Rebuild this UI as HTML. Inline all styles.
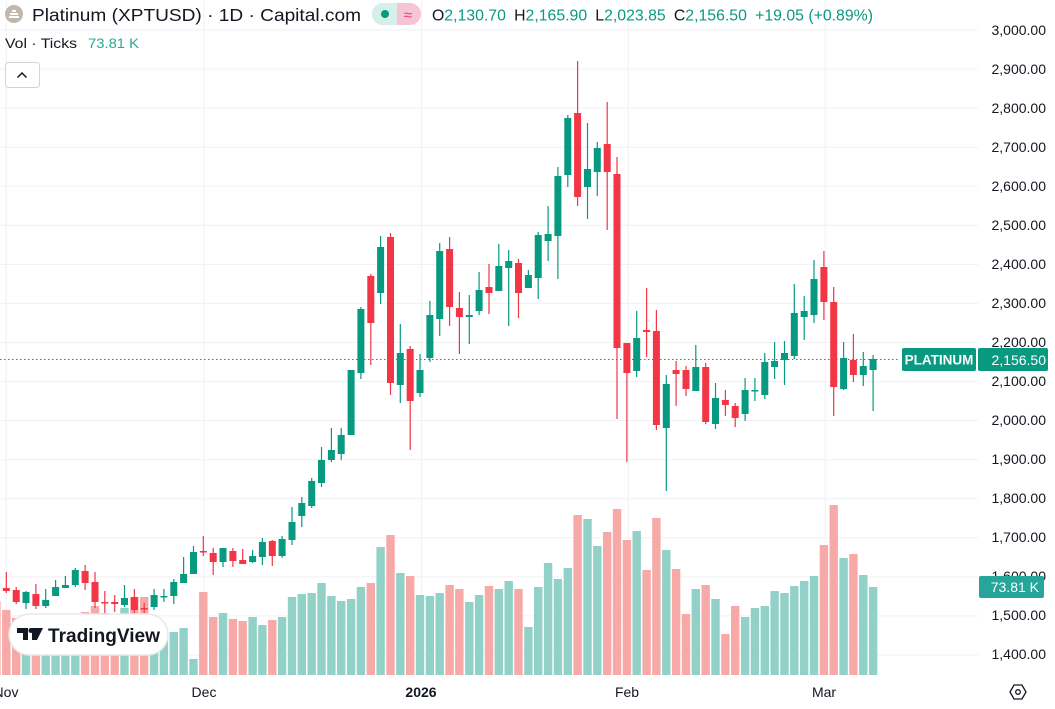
<!DOCTYPE html>
<html><head><meta charset="utf-8"><style>
html,body{margin:0;padding:0;background:#fff;width:1055px;height:709px;overflow:hidden;font-family:"Liberation Sans",sans-serif;}
svg{position:absolute;left:0;top:0}
.t{font-family:"Liberation Sans",sans-serif}
</style></head><body>
<svg width="1055" height="709" viewBox="0 0 1055 709" xmlns="http://www.w3.org/2000/svg">
<g stroke="#f0f1f4" stroke-width="1">
<path d="M0 30H978M0 69.1H978M0 108.1H978M0 147.2H978M0 186.2H978M0 225.3H978M0 264.4H978M0 303.4H978M0 342.5H978M0 381.6H978M0 420.6H978M0 459.7H978M0 498.7H978M0 537.8H978M0 576.9H978M0 615.9H978M0 655H978"/>
<path d="M6.3 0V676M204 0V676M421.5 0V676M628.3 0V676M825.3 0V676"/>
</g>
<path fill="#f7a9a7" d="M-7.8 601h8.4V675h-8.4zM2.1 610h8.4V675h-8.4zM12 618h8.4V675h-8.4zM31.7 620h8.4V675h-8.4zM80.9 612h8.4V675h-8.4zM90.8 606h8.4V675h-8.4zM100.6 613h8.4V675h-8.4zM110.5 620h8.4V675h-8.4zM130.2 597h8.4V675h-8.4zM140 597h8.4V675h-8.4zM199.1 592h8.4V675h-8.4zM209 617h8.4V675h-8.4zM228.7 619h8.4V675h-8.4zM238.5 621h8.4V675h-8.4zM268.1 620h8.4V675h-8.4zM366.6 583h8.4V675h-8.4zM386.3 535h8.4V675h-8.4zM406 576h8.4V675h-8.4zM445.4 585h8.4V675h-8.4zM455.2 589h8.4V675h-8.4zM484.8 586h8.4V675h-8.4zM514.3 589h8.4V675h-8.4zM573.4 515h8.4V675h-8.4zM603 532h8.4V675h-8.4zM612.8 509h8.4V675h-8.4zM622.7 540h8.4V675h-8.4zM642.4 570h8.4V675h-8.4zM652.2 518h8.4V675h-8.4zM671.9 569h8.4V675h-8.4zM681.8 614h8.4V675h-8.4zM701.5 585h8.4V675h-8.4zM721.2 634h8.4V675h-8.4zM731 606h8.4V675h-8.4zM819.7 545h8.4V675h-8.4zM829.5 505h8.4V675h-8.4zM849.2 554h8.4V675h-8.4z"/>
<path fill="#92d1c8" d="M21.8 625h8.4V675h-8.4zM41.5 625h8.4V675h-8.4zM51.4 620h8.4V675h-8.4zM61.2 622h8.4V675h-8.4zM71.1 615h8.4V675h-8.4zM120.3 608h8.4V675h-8.4zM149.9 630h8.4V675h-8.4zM159.7 632h8.4V675h-8.4zM169.6 632h8.4V675h-8.4zM179.4 628h8.4V675h-8.4zM189.3 659h8.4V675h-8.4zM218.8 613h8.4V675h-8.4zM248.4 617h8.4V675h-8.4zM258.2 625h8.4V675h-8.4zM277.9 617h8.4V675h-8.4zM287.8 597h8.4V675h-8.4zM297.6 594h8.4V675h-8.4zM307.5 593h8.4V675h-8.4zM317.3 583h8.4V675h-8.4zM327.2 596h8.4V675h-8.4zM337 601h8.4V675h-8.4zM346.9 599h8.4V675h-8.4zM356.7 587h8.4V675h-8.4zM376.4 547h8.4V675h-8.4zM396.1 573h8.4V675h-8.4zM415.8 595h8.4V675h-8.4zM425.7 596h8.4V675h-8.4zM435.5 593h8.4V675h-8.4zM465.1 602h8.4V675h-8.4zM474.9 595h8.4V675h-8.4zM494.6 589h8.4V675h-8.4zM504.5 581h8.4V675h-8.4zM524.2 627h8.4V675h-8.4zM534 587h8.4V675h-8.4zM543.9 563h8.4V675h-8.4zM553.7 579h8.4V675h-8.4zM563.6 568h8.4V675h-8.4zM583.3 519h8.4V675h-8.4zM593.1 546h8.4V675h-8.4zM632.5 531h8.4V675h-8.4zM662.1 550h8.4V675h-8.4zM691.6 589h8.4V675h-8.4zM711.3 599h8.4V675h-8.4zM740.9 617h8.4V675h-8.4zM750.7 608h8.4V675h-8.4zM760.6 606h8.4V675h-8.4zM770.4 591h8.4V675h-8.4zM780.3 593h8.4V675h-8.4zM790.1 586h8.4V675h-8.4zM800 581h8.4V675h-8.4zM809.8 576h8.4V675h-8.4zM839.4 558h8.4V675h-8.4zM859.1 575h8.4V675h-8.4zM868.9 587h8.4V675h-8.4z"/>
<path d="M0 359.5H900" stroke="#089981" stroke-width="1" stroke-dasharray="1.5 2.5"/>
<path stroke="#f23645" stroke-width="1.2" fill="none" d="M6.3 572V593M16.2 587V604M35.9 584V609M85.1 565V590M95 572V608M104.8 591V613M114.7 595V612M134.4 589V613M144.2 603V613M203.3 536V556M213.2 548V575M232.9 548V567M242.7 549V564M272.3 540V566M370.8 274V365M390.5 233V395M410.2 346V450M449.6 237V326M459.4 292V354M489 264V314M518.5 259V318M577.6 61V206M607.2 102V230M617 157V419M626.9 343V462M646.6 288V357M656.4 310V430M676.1 361V406M686 366V396M705.7 363V424M725.4 390V416M735.2 403V427M823.9 251V320M833.7 287V416M853.4 334V382"/>
<path fill="#f23645" d="M2.8 588h7v3h-7zM12.7 590h7v12h-7zM32.4 594h7v12h-7zM81.6 571h7v12h-7zM91.5 582h7v20h-7zM101.3 602h7v1.5h-7zM111.2 602h7v2h-7zM130.9 597h7v13h-7zM140.7 608h7v1.5h-7zM199.8 551h7v1.5h-7zM209.7 553h7v9h-7zM229.4 551h7v10h-7zM239.2 560h7v4h-7zM268.8 541h7v15h-7zM367.3 276h7v47h-7zM387 237h7v146h-7zM406.7 349h7v52h-7zM446.1 249h7v58h-7zM455.9 308h7v9h-7zM485.5 287h7v6h-7zM515 263h7v30h-7zM574.1 113h7v84h-7zM603.7 144h7v28h-7zM613.5 174h7v174h-7zM623.4 343h7v30h-7zM643.1 330h7v2h-7zM652.9 331h7v94h-7zM672.6 370h7v4h-7zM682.5 370h7v19h-7zM702.2 367h7v55h-7zM721.9 400h7v5h-7zM731.7 406h7v12h-7zM820.4 267h7v35h-7zM830.2 302h7v85h-7zM849.9 360h7v15h-7z"/>
<path stroke="#089981" stroke-width="1.2" fill="none" d="M26 591V609M45.7 589V608M55.6 580V596M65.4 576V588M75.3 568V587M124.5 585V607M154.1 589V610M163.9 589V602M173.8 579V604M183.6 557V583M193.5 546V574M223 548V567M252.6 550V563M262.4 538V565M282.1 536V558M292 507V545M301.8 497V527M311.7 478V508M321.5 447V487M331.4 428V462M341.2 428V460M351.1 370V435M360.9 307V379M380.6 236V304M400.3 324V403M420 354V397M429.9 301V362M439.7 243V336M469.3 295V344M479.1 272V315M498.8 244V291M508.7 250V326M528.4 270V288M538.2 232V299M548.1 206V261M557.9 167V279M567.8 115V187M587.5 123V219M597.3 142V196M636.7 311V377M666.3 375V491M695.8 345V391M715.5 383V429M745.1 378V421M754.9 378V401M764.8 353V399M774.6 342V379M784.5 341V385M794.3 284V359M804.2 296V340M814 260V323M843.6 342V390M863.3 352V386M873.1 355V411"/>
<path fill="#089981" d="M22.5 592h7v11h-7zM42.2 600h7v6h-7zM52.1 587h7v9h-7zM61.9 585h7v3h-7zM71.8 570h7v15h-7zM121 598h7v7h-7zM150.6 595h7v12h-7zM160.4 596h7v1.5h-7zM170.3 582h7v14h-7zM180.1 574h7v9h-7zM190 552h7v22h-7zM219.5 548h7v14h-7zM249.1 556h7v6h-7zM258.9 542h7v15h-7zM278.6 539h7v17h-7zM288.5 522h7v18h-7zM298.3 503h7v13h-7zM308.2 481h7v25h-7zM318 460h7v23h-7zM327.9 450h7v10h-7zM337.7 435h7v19h-7zM347.6 370h7v65h-7zM357.4 309h7v64h-7zM377.1 247h7v46h-7zM396.8 353h7v32h-7zM416.5 370h7v23h-7zM426.4 315h7v43h-7zM436.2 251h7v68h-7zM465.8 315h7v2h-7zM475.6 290h7v21h-7zM495.3 266h7v25h-7zM505.2 261h7v7h-7zM524.9 275h7v13h-7zM534.7 235h7v43h-7zM544.6 234h7v7h-7zM554.4 176h7v60h-7zM564.3 118h7v57h-7zM584 169h7v18h-7zM593.8 148h7v24h-7zM633.2 338h7v33h-7zM662.8 384h7v44h-7zM692.3 367h7v24h-7zM712 398h7v26h-7zM741.6 390h7v24h-7zM751.4 390h7v1.5h-7zM761.3 362h7v33h-7zM771.1 361h7v6h-7zM781 353h7v7h-7zM790.8 313h7v43h-7zM800.7 311h7v6h-7zM810.5 279h7v36h-7zM840.1 358h7v31h-7zM859.8 366h7v9h-7zM869.6 359h7v11h-7z"/>
<g class="t" font-size="14" fill="#131722" text-anchor="end">
<text x="1046" y="35">3,000.00</text><text x="1046" y="74">2,900.00</text><text x="1046" y="113">2,800.00</text><text x="1046" y="152">2,700.00</text><text x="1046" y="191">2,600.00</text><text x="1046" y="230">2,500.00</text><text x="1046" y="269">2,400.00</text><text x="1046" y="308">2,300.00</text><text x="1046" y="347">2,200.00</text><text x="1046" y="386">2,100.00</text><text x="1046" y="425">2,000.00</text><text x="1046" y="464">1,900.00</text><text x="1046" y="503">1,800.00</text><text x="1046" y="542">1,700.00</text><text x="1046" y="581">1,600.00</text><text x="1046" y="620">1,500.00</text><text x="1046" y="659">1,400.00</text>
</g>
<rect x="902" y="348" width="74" height="23" rx="2" fill="#089981"/>
<text x="939" y="364.5" class="t" font-size="13.5" fill="#fff" text-anchor="middle" font-weight="bold">PLATINUM</text>
<rect x="978" y="348" width="70" height="23" rx="2" fill="#089981"/>
<text x="1046" y="365" class="t" font-size="14" fill="#fff" text-anchor="end">2,156.50</text>
<rect x="979" y="576" width="65" height="22" rx="2" fill="#26a69a"/>
<text x="1039" y="592" class="t" font-size="14" fill="#fff" text-anchor="end">73.81 K</text>
<g class="t" font-size="14" fill="#131722" text-anchor="middle">
<text x="6" y="697">Nov</text><text x="204" y="697">Dec</text><text x="421" y="697" font-weight="bold">2026</text><text x="627" y="697">Feb</text><text x="824" y="697">Mar</text>
</g>
<g transform="translate(1018,692)" fill="none" stroke="#131722" stroke-width="1.3"><path d="M-8 0L-4 -7H4L8 0L4 7H-4Z"/><circle r="2.3"/></g>
<rect x="9" y="614" width="159" height="41" rx="20.5" fill="#fff" stroke="#e8e8ea" stroke-width="1.5"/>
<path fill="#131722" d="M17 628h11v12h-5v-7h-6zM32 628h11l-6 12h-5z"/><circle cx="31" cy="630.5" r="2.5" fill="#131722"/>
<text x="48" y="642" class="t" font-size="19.5" font-weight="bold" fill="#131722" textLength="112" lengthAdjust="spacingAndGlyphs">TradingView</text>
<circle cx="14" cy="14" r="9" fill="#c0b8ad"/>
<path d="M9 17h10M10 14h8M12 11h4" stroke="#fff" stroke-width="2"/>
<text x="32" y="21" class="t" font-size="17.5" fill="#131722" textLength="329" lengthAdjust="spacingAndGlyphs">Platinum (XPTUSD) · 1D · Capital.com</text>
<rect x="372" y="3" width="49" height="22" rx="11" fill="#f5c4d7"/>
<path d="M383 3h14v22h-14a11 11 0 0 1 0-22z" fill="#d7efe9"/>
<circle cx="385" cy="14" r="4" fill="#089981"/>
<text x="408" y="20" class="t" font-size="15" fill="#f23675" text-anchor="middle">≈</text>
<text x="432" y="20.5" class="t" font-size="15.5" textLength="441" lengthAdjust="spacingAndGlyphs"><tspan fill="#131722">O</tspan><tspan fill="#089981">2,130.70</tspan><tspan fill="#131722" dx="8">H</tspan><tspan fill="#089981">2,165.90</tspan><tspan fill="#131722" dx="8">L</tspan><tspan fill="#089981">2,023.85</tspan><tspan fill="#131722" dx="8">C</tspan><tspan fill="#089981">2,156.50</tspan><tspan fill="#089981" dx="8">+19.05 (+0.89%)</tspan></text>
<text x="5" y="48" class="t" font-size="14" fill="#131722" textLength="72" lengthAdjust="spacingAndGlyphs">Vol · Ticks</text>
<text x="88" y="48" class="t" font-size="14" fill="#22ab94" textLength="51" lengthAdjust="spacingAndGlyphs">73.81 K</text>
<rect x="5.5" y="62.5" width="34" height="25" rx="3" fill="#fff" stroke="#d1d4dc"/>
<path d="M17.5 77.5l4.5-4.5 4.5 4.5" fill="none" stroke="#131722" stroke-width="1.5"/>
</svg>
</body></html>
